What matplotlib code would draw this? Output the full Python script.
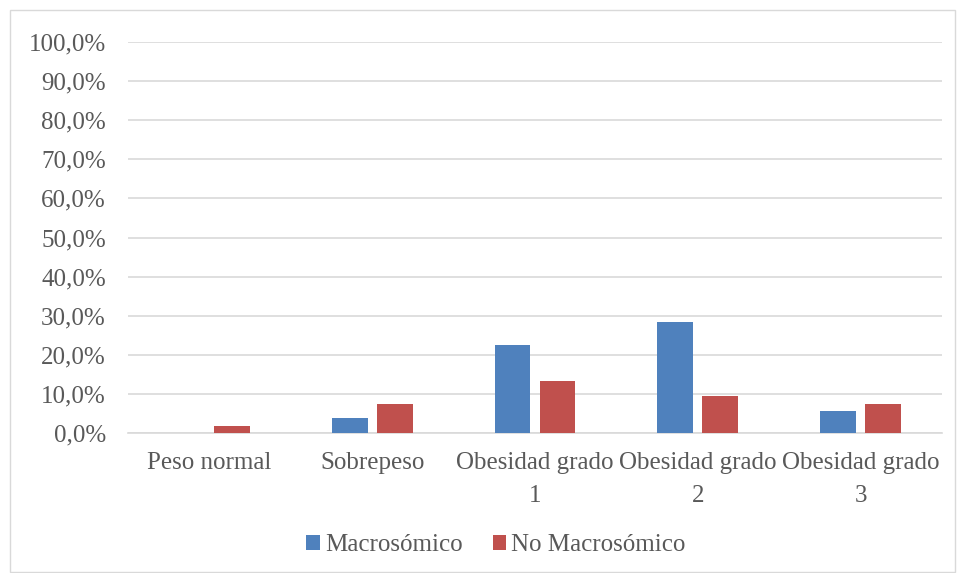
import numpy as np
import matplotlib
matplotlib.use("Agg")
import matplotlib.pyplot as plt
from matplotlib.patches import Rectangle
from matplotlib.ticker import FuncFormatter

# data
categories = ["Peso normal", "Sobrepeso", "Obesidad grado\n1",
              "Obesidad grado\n2", "Obesidad grado\n3"]
macrosomico = [0.0, 3.8, 22.6, 28.3, 5.7]
no_macrosomico = [1.9, 7.5, 13.2, 9.4, 7.5]
series_names = ["Macrosómico", "No Macrosómico"]

COLOR_BLUE = "#4f81bd"
COLOR_RED = "#c0504d"
COLOR_TEXT = "#595959"
COLOR_GRID = "#d9d9d9"

plt.rcParams["font.family"] = ["Liberation Serif", "DejaVu Serif"]

fig = plt.figure(figsize=(9.57, 5.73), dpi=100)
ax = fig.add_axes([128 / 957, 1 - 433 / 573, (942 - 128) / 957, (433 - 42) / 573])

x = np.arange(len(categories))
bar_w = 0.22
off = 0.138
ax.bar(x - off, macrosomico, bar_w, color=COLOR_BLUE, label=series_names[0], zorder=3)
ax.bar(x + off, no_macrosomico, bar_w, color=COLOR_RED, label=series_names[1], zorder=3)

ax.set_xlim(-0.5, len(categories) - 0.5)
ax.set_ylim(0, 100)
ax.set_yticks(np.arange(0, 101, 10))
ax.yaxis.set_major_formatter(FuncFormatter(lambda v, p: f"{v:.1f}%".replace(".", ",")))
ax.set_xticks(x)
ax.set_xticklabels(categories, linespacing=1.65)

for s in ["top", "right", "left"]:
    ax.spines[s].set_visible(False)
ax.spines["bottom"].set_color(COLOR_GRID)
ax.spines["bottom"].set_linewidth(1.2)
ax.yaxis.grid(True, color=COLOR_GRID, linewidth=1.2, zorder=0)
ax.set_axisbelow(True)
ax.tick_params(axis="both", length=0, labelsize=18, colors=COLOR_TEXT)
ax.tick_params(axis="y", pad=16)
ax.tick_params(axis="x", pad=14)

fig.legend(loc="center", bbox_to_anchor=(496 / 957, 1 - 545 / 573), ncol=2,
           frameon=False, fontsize=18, labelcolor=COLOR_TEXT,
           handlelength=0.55, handleheight=0.55, handletextpad=0.2, columnspacing=1.2)

# outer chart border
fig.patches.append(Rectangle((10 / 957, 1 / 573), 945 / 957, 562 / 573,
                             transform=fig.transFigure, fill=False,
                             edgecolor=COLOR_GRID, linewidth=1.0))

fig.savefig("out.png", dpi=100, facecolor="white")
